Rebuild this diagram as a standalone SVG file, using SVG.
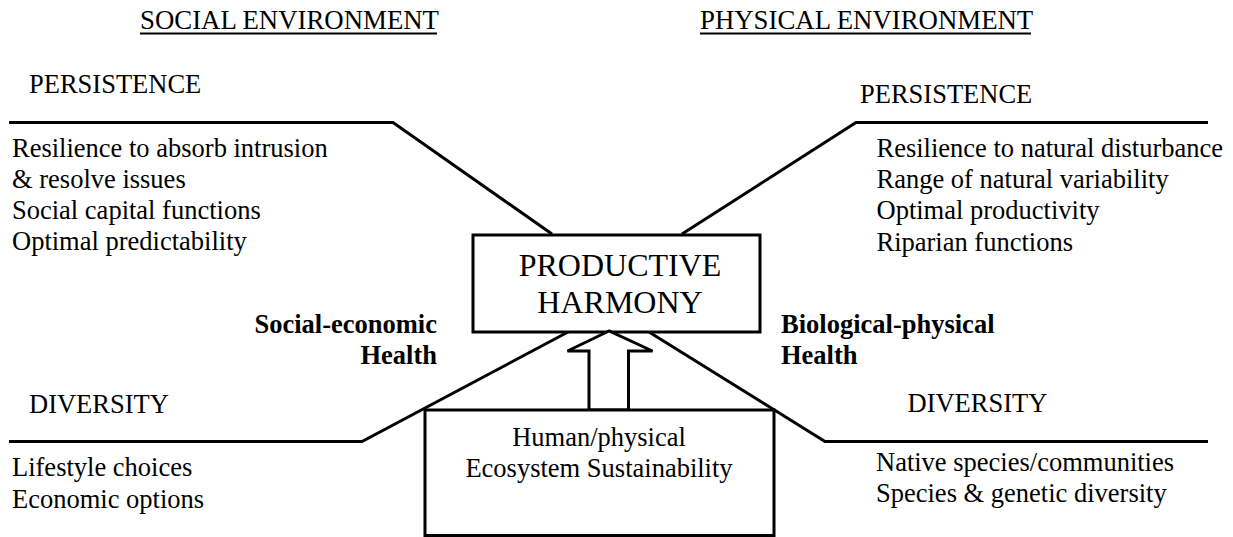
<svg xmlns="http://www.w3.org/2000/svg" width="1233" height="537" viewBox="0 0 1233 537">
<style>
text{font-family:"Liberation Serif","Times New Roman",serif;font-size:26.5px;fill:#000}
.t{font-size:26.8px}
.b{font-weight:bold}
.big{font-size:32px}
.ln{fill:none;stroke:#000;stroke-width:3;stroke-linejoin:miter}
.box{fill:#fff;stroke:#000;stroke-width:3}
.ul{stroke:#000;stroke-width:2}
</style>
<rect width="1233" height="537" fill="#fff"/>
<g id="titles">
<text class="t" x="140" y="29">SOCIAL ENVIRONMENT</text>
<line class="ul" x1="140" y1="33.5" x2="437" y2="33.5"/>
<text class="t" x="700" y="29">PHYSICAL ENVIRONMENT</text>
<line class="ul" x1="700" y1="33.5" x2="1031" y2="33.5"/>
</g>
<g id="connectors">
<polyline class="ln" points="9,122.5 393,122.5 552,234"/>
<polyline class="ln" points="1208,122.5 856,122.5 682,234"/>
<polyline class="ln" points="9,441.5 362,441.5 568,332"/>
<polyline class="ln" points="1208,441.5 825,441.5 649,332"/>
</g>
<g id="social-persistence">
<text x="29" y="93">PERSISTENCE</text>
<text x="12" y="157">Resilience to absorb intrusion</text>
<text x="12" y="188">&amp; resolve issues</text>
<text x="12" y="219">Social capital functions</text>
<text x="12" y="250">Optimal predictability</text>
</g>
<g id="physical-persistence">
<text x="860" y="102.5">PERSISTENCE</text>
<text x="876.5" y="157">Resilience to natural disturbance</text>
<text x="876.5" y="188">Range of natural variability</text>
<text x="876.5" y="219">Optimal productivity</text>
<text x="876.5" y="250.5">Riparian functions</text>
</g>
<g id="social-diversity">
<text x="29" y="413">DIVERSITY</text>
<text x="12" y="476">Lifestyle choices</text>
<text x="12" y="508">Economic options</text>
</g>
<g id="physical-diversity">
<text x="907.5" y="412">DIVERSITY</text>
<text x="876" y="470.5">Native species/communities</text>
<text x="876" y="501.5">Species &amp; genetic diversity</text>
</g>
<g id="social-health">
<text class="b" x="437" y="333" text-anchor="end">Social-economic</text>
<text class="b" x="437" y="364" text-anchor="end">Health</text>
</g>
<g id="biological-health">
<text class="b" x="781" y="333">Biological-physical</text>
<text class="b" x="781" y="364">Health</text>
</g>
<g id="productive-harmony">
<rect class="box" x="473" y="235" width="287" height="97"/>
<text class="big" x="620" y="276" text-anchor="middle">PRODUCTIVE</text>
<text class="big" x="620" y="313" text-anchor="middle">HARMONY</text>
</g>
<g id="arrow">
<polygon class="box" points="609,331 567.5,351 589,351 589,410 628.5,410 628.5,351 652.5,351"/>
</g>
<g id="sustainability">
<rect class="box" x="425" y="410" width="349" height="125.5"/>
<text x="599" y="446" text-anchor="middle">Human/physical</text>
<text x="599" y="476.5" text-anchor="middle">Ecosystem Sustainability</text>
</g>
</svg>
